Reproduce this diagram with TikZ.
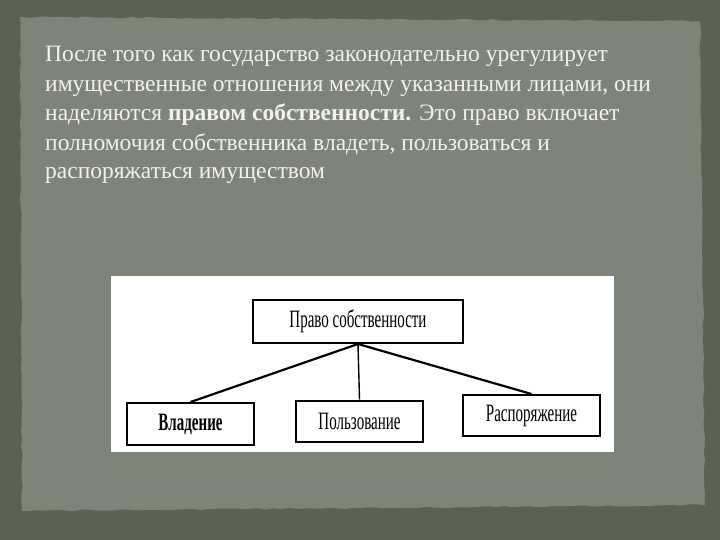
\documentclass[tikz,border=0pt]{standalone}
\usepackage{fontspec}
\setmainfont{Liberation Serif}
\newfontfamily\diagfont[FakeStretch=0.6]{Liberation Serif}
\usetikzlibrary{decorations.pathmorphing}
\definecolor{outerbg}{HTML}{5C6252}
\definecolor{innerbg}{HTML}{7F8479}
\definecolor{txt}{HTML}{F2F2EC}
\tikzset{
  txtline/.style={anchor=base west, inner sep=0pt, text=txt, font=\fontsize{23.5}{28}\selectfont},
  box/.style={draw=black, line width=2pt, fill=white, inner sep=0pt, font=\diagfont\fontsize{25}{27}\selectfont},
  conn/.style={draw=black, line width=2.2pt}
}
\begin{document}
\begin{tikzpicture}[x=1pt,y=-1pt]
\useasboundingbox (0,0) rectangle (720,540);
\fill[outerbg] (0,0) rectangle (720,540);
\fill[innerbg, decorate, decoration={random steps, segment length=8pt, amplitude=0.8pt}]
  (20,17) -- (700,21) -- (705,505) -- (22,511) -- cycle;
\fill[white] (111,276) rectangle (614,452);
\node[txtline] (l1) at (45,62) {После того как государство законодательно урегулирует};
\node[txtline] (l2) at (45,92) {имущественные отношения между указанными лицами, они};
\node[txtline] (l3) at (45,121) {наделяются \textbf{правом собственности.} Это право включает};
\node[txtline] (l4) at (45,151) {полномочия собственника владеть, пользоваться и};
\node[txtline] (l5) at (45,179) {распоряжаться имуществом};
\node[box, minimum width=210pt, minimum height=43pt] (top) at (358,321.5) {Право собственности};
\node[box, minimum width=127pt, minimum height=42pt] (vl) at (190.5,424) {\textbf{Владение}};
\node[box, minimum width=127pt, minimum height=41pt] (po) at (359.5,421) {Пользование};
\node[box, minimum width=137pt, minimum height=41pt] (ra) at (531.5,415.5) {Распоряжение};
\draw[conn] (top.south) -- (vl.north);
\draw[conn, line width=1.4pt] (top.south) -- (po.north);
\draw[conn] (top.south) -- (ra.north);
\end{tikzpicture}
\end{document}
